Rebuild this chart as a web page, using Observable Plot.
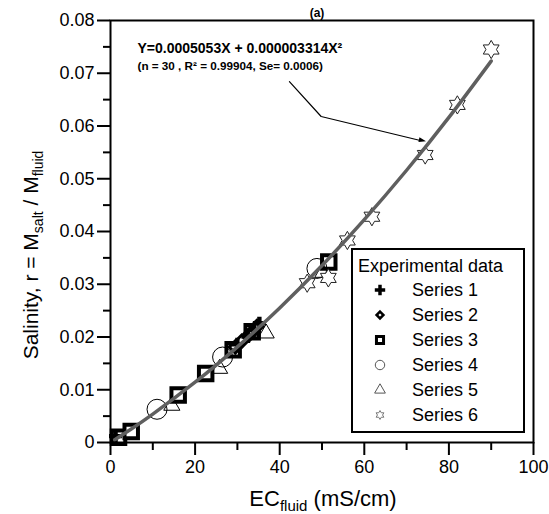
<!DOCTYPE html>
<html><head><meta charset="utf-8">
<script src="https://cdn.jsdelivr.net/npm/d3@7"></script>
<script src="https://cdn.jsdelivr.net/npm/@observablehq/plot@0.6"></script>
<style>
body{margin:0;background:#fff}
#chart svg{font-family:"Liberation Sans",Arial,sans-serif;overflow:hidden}
</style>
</head><body><div id="chart"></div>
<script>
// ---- data ----
const series1X = [1.2, 30.0, 32.5, 34.0, 35.2];
const series1Y = [0.0012, 0.0186, 0.0201, 0.0213, 0.0226];
const series2X = [29.5, 31.0, 33.0, 34.6];
const series2Y = [0.0181, 0.0192, 0.0206, 0.0220];
const series3X = [1.9, 4.9, 16.0, 22.5, 29.0, 33.5, 51.6];
const series3Y = [0.0010, 0.0021, 0.0090, 0.0131, 0.0176, 0.0210, 0.0342];
const series4X = [11.0, 26.5, 48.8];
const series4Y = [0.0063, 0.0162, 0.0330];
const series5X = [14.5, 25.8, 36.8, 50.2];
const series5Y = [0.0070, 0.0140, 0.0207, 0.0322];
const series6X = [46.5, 51.5, 56.0, 61.8, 74.4, 82.0, 90.0];
const series6Y = [0.0302, 0.0312, 0.0383, 0.0428, 0.0545, 0.0640, 0.0745];
// fitted curve
const fitX = [1, 5, 10, 20, 30, 40, 50, 60, 70, 80, 90];
const fitY = [0.00051, 0.00261, 0.00538, 0.01143, 0.01814, 0.02551, 0.03355, 0.04225, 0.05161, 0.06163, 0.07232];
// annotation arrow path (data coordinates)
const arrowX = [42.3, 49.8, 73.0];
const arrowY = [0.0684, 0.0618, 0.0573];
const xTicks = [0, 20, 40, 60, 80, 100];
const xMinor = [10, 30, 50, 70, 90];
const yTicks = [0, 0.01, 0.02, 0.03, 0.04, 0.05, 0.06, 0.07, 0.08];
const yMinor = [0.005, 0.015, 0.025, 0.035, 0.045, 0.055, 0.065, 0.075];
const seriesNames = ["Series 1", "Series 2", "Series 3", "Series 4", "Series 5", "Series 6"];
const legendTitle = "Experimental data";
const eqLine1 = "Y=0.0005053X + 0.000003314X²";
const eqLine2 = "(n = 30 , R² = 0.99904, Se= 0.0006)";
const panelLabel = "(a)";

const zip = (xs, ys) => xs.map((x, i) => ({x, y: ys[i]}));

// six-pointed star outline
const hexagram = {
  draw(ctx, size) {
    const R = Math.sqrt(size / Math.PI) * 1.25, r = R / Math.sqrt(3);
    for (let i = 0; i < 12; i++) {
      const a = -Math.PI / 2 + i * Math.PI / 6, rr = i % 2 ? r : R;
      const px = rr * Math.cos(a), py = rr * Math.sin(a);
      i ? ctx.lineTo(px, py) : ctx.moveTo(px, py);
    }
    ctx.closePath();
  }
};
const arrowHead = {
  draw(ctx, size) {
    const s = Math.sqrt(size / Math.PI);
    ctx.moveTo(0, -s * 1.2); ctx.lineTo(s * 0.6, s * 0.6); ctx.lineTo(-s * 0.6, s * 0.6); ctx.closePath();
  }
};

const W = 549, H = 514;
const chart = Plot.plot({
  width: W, height: H,
  marginLeft: 110, marginRight: 16, marginTop: 20, marginBottom: 72,
  style: {fontFamily: "Liberation Sans, Arial, sans-serif", color: "black", overflow: "hidden"},
  x: {domain: [0, 100]},
  y: {domain: [0, 0.08]},
  marks: [
    Plot.axisX({ticks: xTicks, tickSize: 13, tickPadding: 5, strokeWidth: 2, fontSize: 18, label: null}),
    Plot.axisX({ticks: xMinor, tickSize: 8, strokeWidth: 2, tickFormat: () => "", label: null}),
    Plot.axisY({ticks: yTicks, tickSize: 13, tickPadding: 3, strokeWidth: 2, fontSize: 18, label: null, tickFormat: d => d === 0 ? "0" : d3.format(".2f")(d)}),
    Plot.axisY({ticks: yMinor, tickSize: 7, strokeWidth: 2, tickFormat: () => "", label: null}),
    Plot.dot(zip(series3X, series3Y), {x: "x", y: "y", symbol: "square", r: 7.6, stroke: "black", strokeWidth: 4, fill: "white"}),
    Plot.dot(zip(series2X, series2Y), {x: "x", y: "y", symbol: "diamond2", r: 5.5, stroke: "black", strokeWidth: 3, fill: "white"}),
    Plot.dot(zip(series1X, series1Y), {x: "x", y: "y", symbol: "cross", r: 5.5, fill: "black", stroke: "none"}),
    Plot.dot(zip(series4X, series4Y), {x: "x", y: "y", symbol: "circle", r: 10, stroke: "black", strokeWidth: 1, fill: "none"}),
    Plot.dot(zip(series5X, series5Y), {x: "x", y: "y", symbol: "triangle", r: 6, stroke: "black", strokeWidth: 1, fill: "none"}),
    Plot.dot(zip(series6X, series6Y), {x: "x", y: "y", symbol: hexagram, r: 7.3, stroke: "#222", strokeWidth: 1, fill: "white"}),
    Plot.line(zip(fitX, fitY), {x: "x", y: "y", curve: "natural", stroke: "#5f5f5f", strokeWidth: 3.5}),
    Plot.line(zip(arrowX, arrowY), {x: "x", y: "y", stroke: "black", strokeWidth: 1.2}),
    Plot.dot([zip(arrowX, arrowY)[2]], {x: "x", y: "y", symbol: arrowHead, r: 4, fill: "black", stroke: "none", rotate: 103, dx: 2}),
    Plot.text([eqLine1], {frameAnchor: "top-left", text: d => d, dx: 27, dy: 23, fontSize: 14, fontWeight: "bold", textAnchor: "start", fill: "black"}),
    Plot.text([eqLine2], {frameAnchor: "top-left", text: d => d, dx: 27, dy: 41, fontSize: 11.7, fontWeight: "bold", textAnchor: "start", fill: "black"}),
    Plot.text([panelLabel], {frameAnchor: "top", text: d => d, dx: -5, dy: -12, fontSize: 12, fontWeight: "bold", fill: "black"}),
    Plot.frame({stroke: "black", strokeWidth: 2})
  ]
});
document.getElementById("chart").appendChild(chart);

// ---- axis titles with subscripts, and legend ----
const svg = d3.select(chart);
const xt = svg.append("text").attr("x", 323).attr("y", 506).attr("text-anchor", "middle")
  .attr("font-size", 22).attr("fill", "black");
xt.append("tspan").text("EC");
xt.append("tspan").attr("font-size", 15).attr("dy", 5).text("fluid");
xt.append("tspan").attr("dy", -5).text(" (mS/cm)");

const yt = svg.append("text").attr("transform", "translate(38,255) rotate(-90)").attr("text-anchor", "middle")
  .attr("font-size", 21).attr("fill", "black");
yt.append("tspan").text("Salinity, r = M");
yt.append("tspan").attr("font-size", 14).attr("dy", 5).text("salt");
yt.append("tspan").attr("dy", -5).text(" / M");
yt.append("tspan").attr("font-size", 14).attr("dy", 5).text("fluid");

const lg = svg.append("g").attr("text-anchor", "start");
lg.append("rect").attr("x", 352).attr("y", 249).attr("width", 172).attr("height", 183)
  .attr("fill", "white").attr("stroke", "black").attr("stroke-width", 2);
lg.append("text").attr("x", 358).attr("y", 272).attr("font-size", 18).attr("fill", "black").text(legendTitle);
const legSyms = [
  {t: d3.symbolCross, s: 60, fill: "black", stroke: "none", sw: 0},
  {t: d3.symbolDiamond2, s: 30, fill: "white", stroke: "black", sw: 2.5},
  {t: d3.symbolSquare, s: 50, fill: "white", stroke: "black", sw: 3},
  {t: d3.symbolCircle, s: 70, fill: "none", stroke: "#555", sw: 1},
  {t: d3.symbolTriangle, s: 50, fill: "none", stroke: "#555", sw: 1},
  {t: hexagram, s: 40, fill: "white", stroke: "#777", sw: 1}
];
seriesNames.forEach((name, i) => {
  const yy = 290 + i * 25;
  const m = legSyms[i];
  lg.append("path").attr("transform", `translate(380,${yy})`).attr("d", d3.symbol(m.t, m.s)())
    .attr("fill", m.fill).attr("stroke", m.stroke).attr("stroke-width", m.sw);
  lg.append("text").attr("x", 412).attr("y", yy + 6).attr("font-size", 18).attr("fill", "black").text(name);
});
</script></body></html>
